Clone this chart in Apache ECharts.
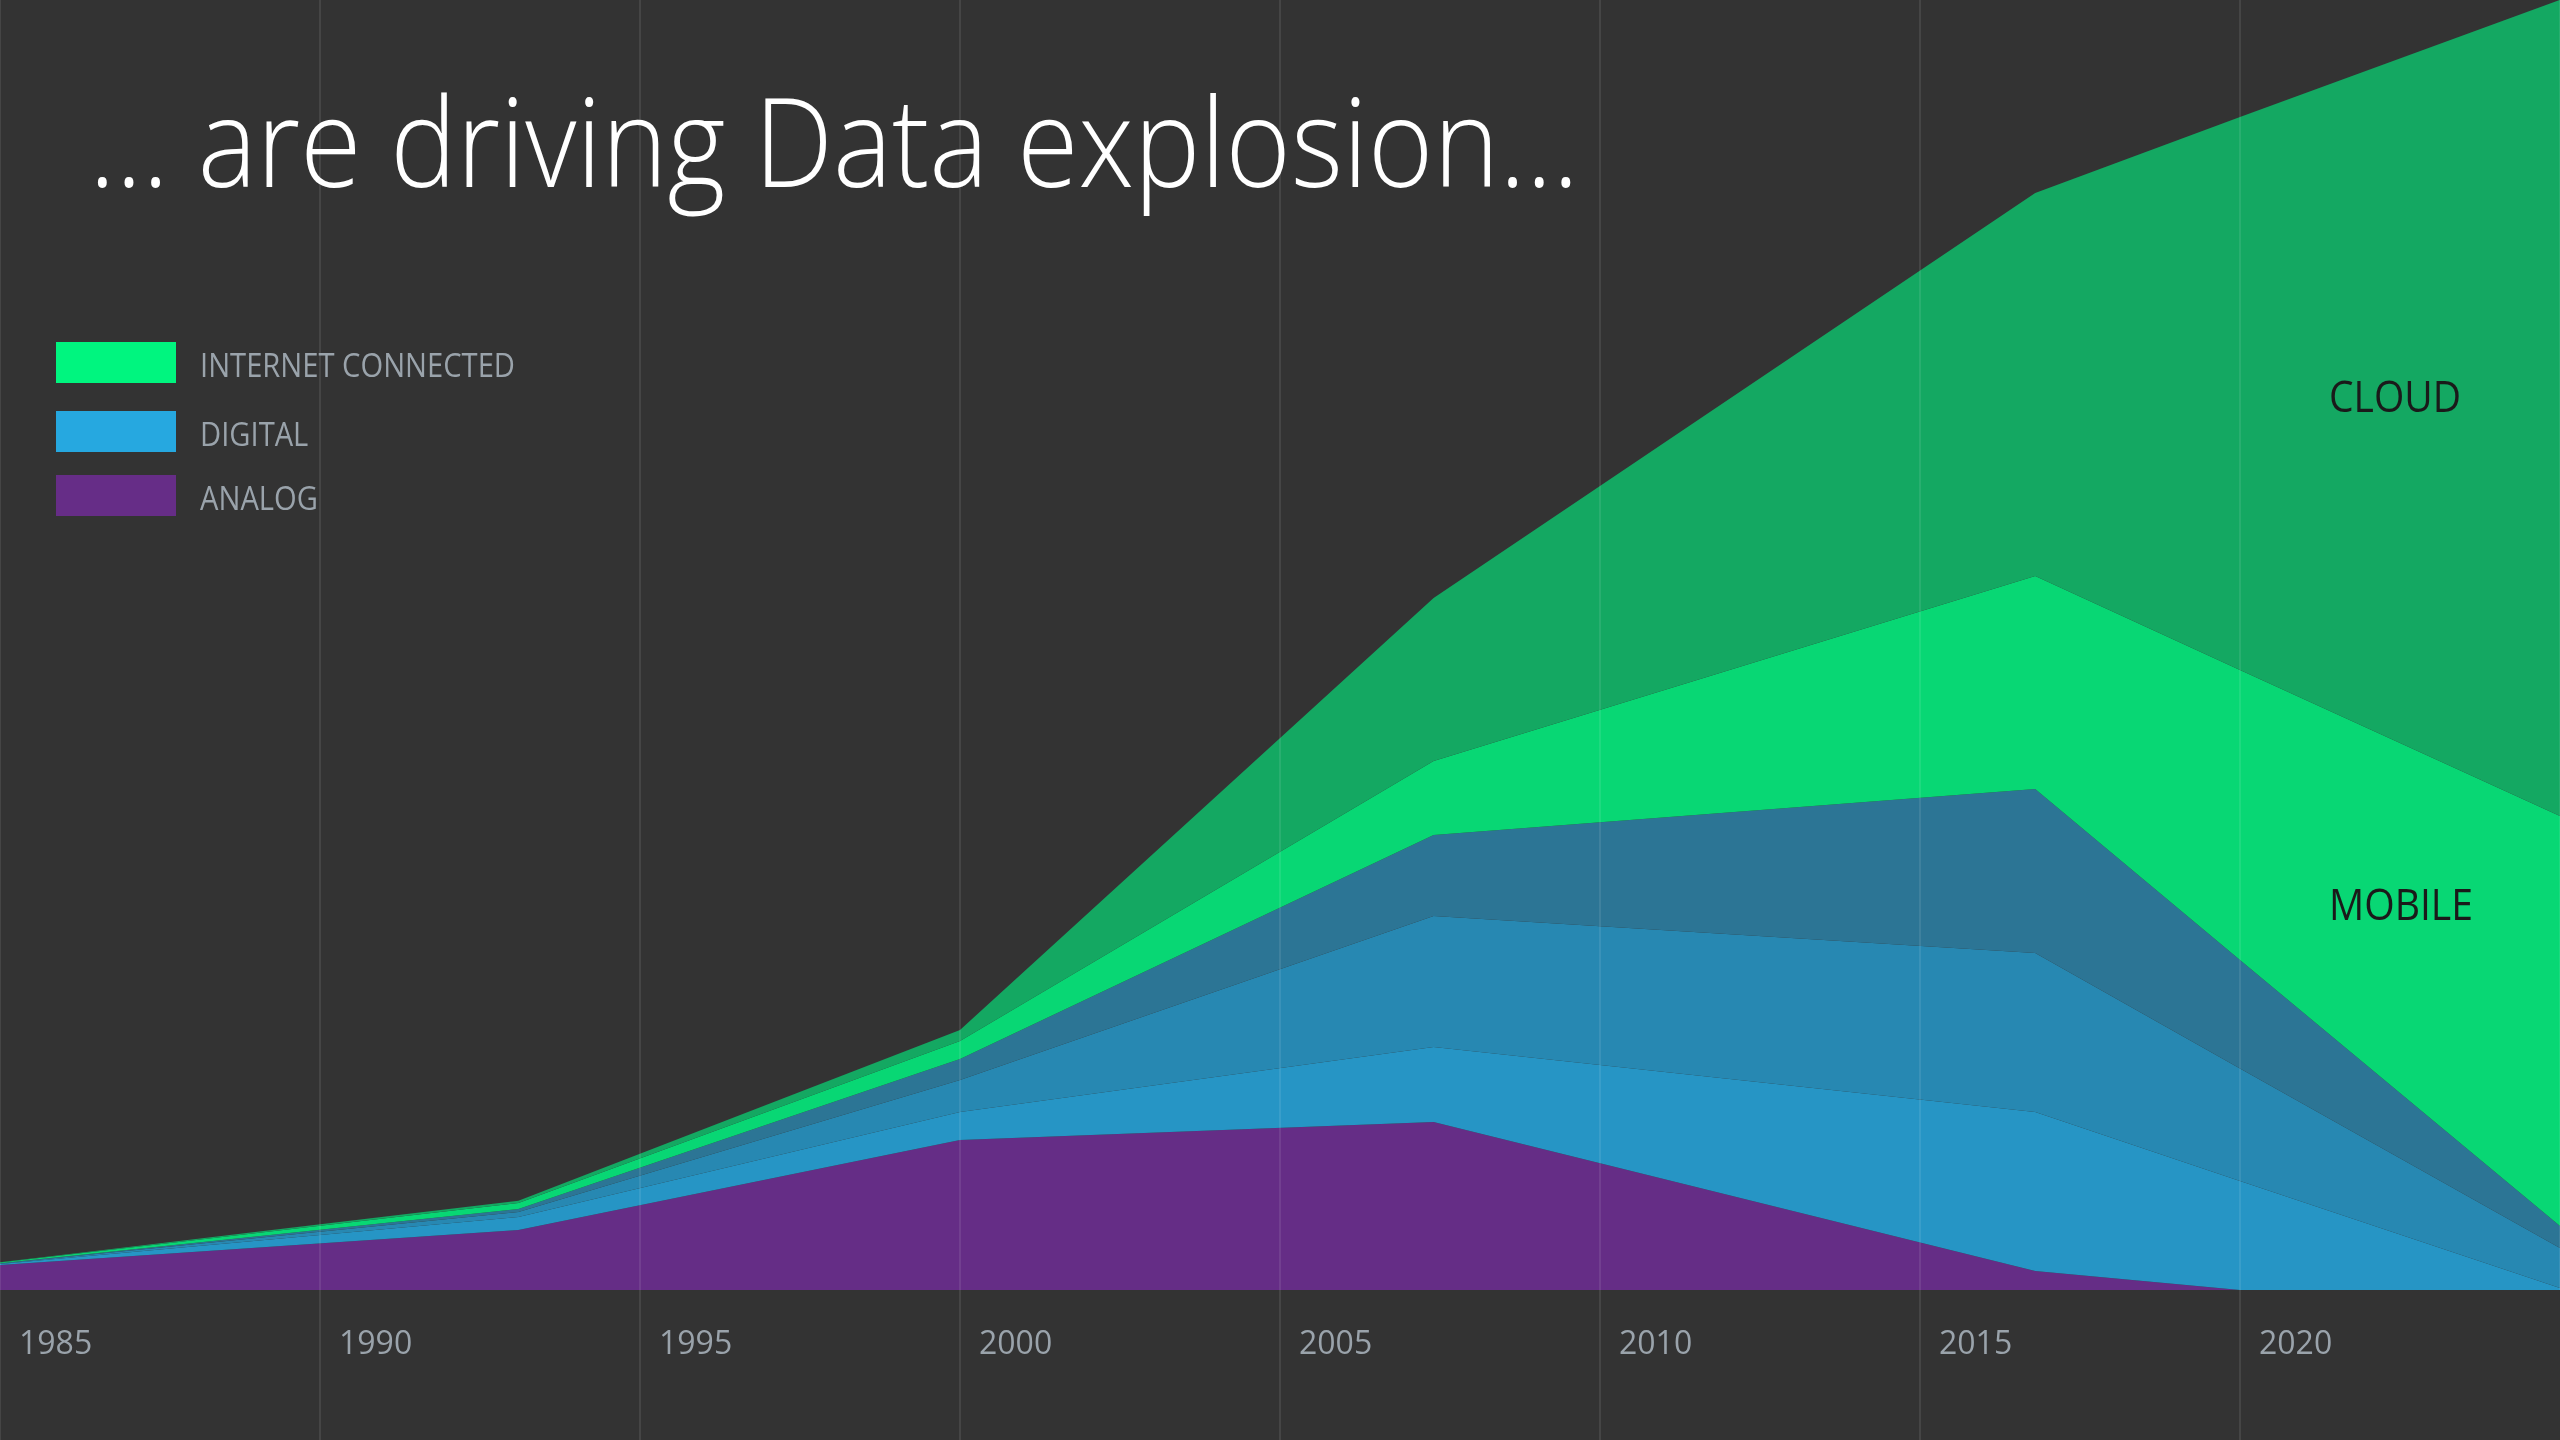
<!DOCTYPE html>
<html>
<head>
<meta charset="utf-8">
<script src="https://cdn.jsdelivr.net/npm/echarts/dist/echarts.min.js"></script>
<style>
  html, body { margin: 0; padding: 0; background: #333333; }
  #chart { width: 2560px; height: 1440px; }
</style>
</head>
<body>
<div id="chart"></div>
<script>
// ---- data ----
const years    = [1985, 1993.1, 2000, 2007.4, 2016.8, 2020, 2025];
const analog   = [1.94, 4.65, 11.63, 13.02, 1.47, 0, 0];
const digitalA = [0.08, 1.01, 2.17, 5.81, 12.33, 8.45, 0.16];
const digitalB = [0.04, 0.39, 2.48, 10.16, 12.33, 8.72, 3.10];
const digitalC = [0.02, 0.23, 1.63, 6.28, 12.71, 8.41, 1.71];
const mobile   = [0.05, 0.47, 1.40, 5.74, 16.51, 22.48, 31.78];
const cloud    = [0.02, 0.16, 0.85, 12.64, 29.69, 42.87, 63.26];

const seriesNames  = ['ANALOG', 'DIGITAL', 'DIGITAL II', 'DIGITAL III', 'MOBILE', 'CLOUD'];
const seriesValues = [analog, digitalA, digitalB, digitalC, mobile, cloud];
const seriesColors = ['#652D86', '#2695C5', '#2788B2', '#2C7595', '#08D774', '#14A862'];

const legendNames  = ['INTERNET CONNECTED', 'DIGITAL', 'ANALOG'];
const legendColors = ['#00F57F', '#26A8E0', '#662D87'];

const titleText = '\u2026 are driving Data explosion\u2026';
const areaLabels = ['CLOUD', 'MOBILE'];

// ---- helpers ----
const FONT = '"Open Sans", Lato, "Noto Sans", sans-serif';
const mctx = document.createElement('canvas').getContext('2d');
function fitScale(text, font, target) {
  mctx.font = font;
  return target / mctx.measureText(text).width;
}

const chart = echarts.init(document.getElementById('chart'), null, { renderer: 'canvas' });

const series = seriesValues.map((vals, k) => ({
  name: seriesNames[k],
  type: 'line',
  stack: 'total',
  data: years.map((yr, i) => [vals[i], yr]),
  encode: { x: 1, y: 0 },
  symbol: 'none',
  showSymbol: false,
  silent: true,
  lineStyle: { width: 0 },
  itemStyle: { color: seriesColors[k] },
  areaStyle: { color: seriesColors[k], opacity: 1 },
  emphasis: { disabled: true }
}));

// graphic texts
const titleFont = '300 124px ' + FONT;
const titleScale = fitScale(titleText, titleFont, 1490);

const legendFont = '400 32px ' + FONT;
const legendScale = fitScale(legendNames[0], legendFont, 315);
const legendTops = [342, 411, 475];

const labelFont = '400 44px ' + FONT;
const cloudScale = fitScale(areaLabels[0], labelFont, 132);
const mobileScale = fitScale(areaLabels[1], labelFont, 144);

const graphic = [
  {
    type: 'text', x: 89, y: 152, scaleX: titleScale, z: 100,
    style: { text: titleText, fill: '#ffffff', fontSize: 124, fontWeight: 300, fontFamily: FONT, align: 'left', verticalAlign: 'middle' }
  }
];
legendNames.forEach((nm, i) => {
  graphic.push({
    type: 'rect', z: 100,
    shape: { x: 56, y: legendTops[i], width: 120, height: 41 },
    style: { fill: legendColors[i] }
  });
  graphic.push({
    type: 'text', x: 200, y: legendTops[i] + 26, scaleX: legendScale, z: 100,
    style: { text: nm, fill: '#9AA3AB', fontSize: 32, fontFamily: FONT, align: 'left', verticalAlign: 'middle' }
  });
});
graphic.push({
  type: 'text', x: 2329, y: 399, scaleX: cloudScale, z: 100,
  style: { text: areaLabels[0], fill: '#1A1A1A', fontSize: 44, fontFamily: FONT, align: 'left', verticalAlign: 'middle' }
});
graphic.push({
  type: 'text', x: 2329, y: 907, scaleX: mobileScale, z: 100,
  style: { text: areaLabels[1], fill: '#1A1A1A', fontSize: 44, fontFamily: FONT, align: 'left', verticalAlign: 'middle' }
});

const gridColor = 'rgba(255,255,255,0.12)';

const option = {
  backgroundColor: '#333333',
  animation: false,
  grid: { left: 0, right: 0, top: 0, bottom: 150, containLabel: false, outerBoundsMode: 'none' },
  xAxis: {
    type: 'value',
    min: 1985, max: 2025, interval: 5,
    z: 10,
    axisLine: { show: false, onZero: false },
    axisTick: { show: true, inside: false, length: 150, lineStyle: { color: gridColor, width: 1.5 } },
    splitLine: { show: true, lineStyle: { color: gridColor, width: 1.5 } },
    axisLabel: {
      show: true, align: 'left', margin: 39, padding: [0, 0, 0, 19],
      fontSize: 32, fontFamily: FONT, color: '#9AA3AB',
      showMinLabel: true, showMaxLabel: false,
      formatter: v => String(v)
    }
  },
  yAxis: {
    type: 'value',
    min: 0, max: 100,
    show: false,
    splitLine: { show: false }
  },
  series: series,
  graphic: graphic
};
chart.setOption(option);
</script>
</body>
</html>
